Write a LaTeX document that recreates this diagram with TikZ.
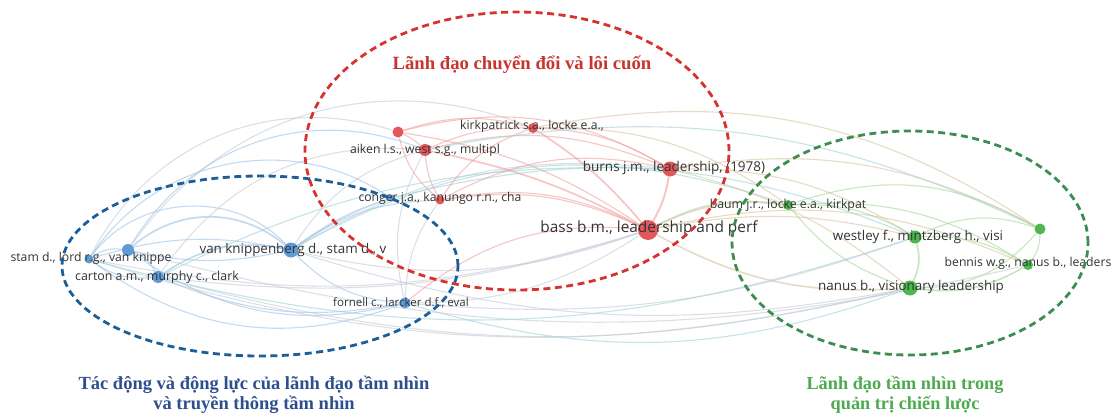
\documentclass[tikz,border=0pt]{standalone}
\usepackage{fontspec}
\setmainfont{Liberation Serif}
\newfontfamily\lblfont{Open Sans}
\pgfdeclarelayer{back}
\pgfdeclarelayer{bg}
\pgfsetlayers{back,bg,main}
\definecolor{ellred}{HTML}{D7322E}
\definecolor{ellblue}{HTML}{1B5E98}
\definecolor{ellgreen}{HTML}{3D8C50}
\definecolor{ttlred}{HTML}{C9352E}
\definecolor{ttlblue}{HTML}{2E4F8E}
\definecolor{ttlgreen}{HTML}{4DAA4F}
\definecolor{nblue}{HTML}{5E9BD6}
\definecolor{nred}{HTML}{E2575A}
\definecolor{ngreen}{HTML}{4DB84E}
\definecolor{eblue}{HTML}{9CC2E6}
\definecolor{ered}{HTML}{F0A0A0}
\definecolor{egreen}{HTML}{A2D898}
\definecolor{egray}{HTML}{C4CCD8}
\definecolor{eteal}{HTML}{9FD3D6}
\definecolor{eolive}{HTML}{D8C4A0}
\definecolor{txt}{HTML}{333333}
\tikzset{
  nd/.style={circle, inner sep=0pt, draw=none},
  bn/.style={nd, fill=nblue},
  rn/.style={nd, fill=nred},
  gn/.style={nd, fill=ngreen},
  lbl/.style={inner sep=0pt, text=txt, font=\lblfont\fontsize{#1}{#1}\selectfont},
  lbl/.default=12,
  edge/.style={line width=1.1pt, opacity=0.6},
  eb/.style={edge, draw=eblue},
  er/.style={edge, draw=ered},
  eg/.style={edge, draw=egreen},
  ex/.style={edge, draw=egray},
  et/.style={edge, draw=eteal},
  eo/.style={edge, draw=eolive},
  ell/.style={line width=2.8pt, dash pattern=on 7pt off 4.5pt},
  ttl/.style={font=\bfseries\fontsize{#1}{20}\selectfont, align=center},
}
\begin{document}
\begin{tikzpicture}[x=1pt,y=-1pt]
\useasboundingbox (0,0) rectangle (1118,417);
\begin{pgfonlayer}{back}
\fill[white] (0,0) rectangle (1118,417);
\end{pgfonlayer}

% nodes
\node[bn, minimum size=9pt]  (stam)  at (89,259) {};
\node[bn, minimum size=12pt] (bl2)   at (128,250) {};
\node[bn, minimum size=12pt] (cart)  at (158,277) {};
\node[bn, minimum size=15pt] (vk)    at (291,250) {};
\node[bn, minimum size=11pt] (forn)  at (405,303) {};
\node[bn, minimum size=7pt]  (bl3)   at (391,198) {};
\node[rn, minimum size=9pt]  (cong)  at (440,200) {};
\node[rn, minimum size=12pt] (aik)   at (425,150) {};
\node[rn, minimum size=11pt] (r398)  at (398,132) {};
\node[rn, minimum size=10pt] (kirk)  at (533,128) {};
\node[rn, minimum size=15pt] (burns) at (670,169) {};
\node[rn, minimum size=20pt] (bass)  at (648,230) {};
\node[gn, minimum size=10pt] (baum)  at (788,205) {};
\node[gn, minimum size=13pt] (west)  at (915,237) {};
\node[gn, minimum size=11pt] (g1040) at (1040,229) {};
\node[gn, minimum size=10pt] (benn)  at (1028,265) {};
\node[gn, minimum size=15pt] (nanus) at (910,288) {};

% edges
\begin{pgfonlayer}{bg}
% blue cluster
\draw[eb] (stam) to[bend left=20] (bl2);
\draw[eb] (stam) to[bend right=20] (cart);
\draw[eb] (bl2) to[bend left=20] (cart);
\draw[eb, line width=1.7pt] (bl2) to[bend left=40] (vk);
\draw[eb, line width=1.7pt] (cart) to[bend left=22] (vk);
\draw[eb] (stam) to[bend left=14] (vk);
\draw[eb] (bl2) to[bend right=12] (vk);
\draw[eb] (cart) to[bend right=16] (forn);
\draw[eb] (vk) to[bend right=20] (forn);
\draw[eb, line width=1.8pt] (vk) to[bend left=8] (bl3);
\draw[eb] (vk) to[bend left=16] (cong);
\draw[eb] (stam) to[bend left=45] (bl3);
\draw[eb] (bl2) to[bend left=40] (aik);
\draw[eb] (stam) to[bend right=28] (forn);
\draw[eb] (bl2) to[bend right=24] (forn);
\draw[eb] (stam) to[bend left=50] (vk);
% long cross arcs
\draw[ex] (stam) to[bend right=14] (bass);
\draw[ex] (cart) to[bend right=12] (bass);
\draw[ex] (cart) to[bend right=14] (nanus);
\draw[ex] (stam) to[bend right=15] (nanus);
\draw[ex] (bl2) to[bend right=14] (benn);
\draw[et] (stam) to[bend right=17] (west);
\draw[ex] (vk) to[bend right=16] (bass);
\draw[ex] (vk) to[bend left=18] (burns);
\draw[ex] (forn) to[bend right=16] (bass);
\draw[et] (forn) to[bend right=18] (nanus);
\draw[ex] (forn) to[bend right=12] (west);
\draw[ex] (vk) to[bend right=14] (nanus);
\draw[ex] (stam) to[bend left=40] (r398);
\draw[ex] (bl2) to[bend left=38] (kirk);
\draw[ex] (cart) to[bend left=30] (aik);
\draw[ex] (vk) to[bend left=20] (aik);
\draw[ex] (forn) to[bend left=20] (aik);
\draw[ex] (forn) to[bend left=16] (cong);
\draw[et] (bl3) to[bend left=18] (west);
\draw[et] (vk) to[bend left=24] (baum);
\draw[et] (cart) to[bend left=14] (burns);
% red cluster
\draw[er] (r398) to[bend left=10] (aik);
\draw[er] (r398) to[bend left=16] (kirk);
\draw[er] (aik) to[bend left=12] (kirk);
\draw[er] (aik) to[bend right=12] (cong);
\draw[er, line width=1.7pt] (aik) to[bend left=8] (bass);
\draw[er] (aik) to[bend left=18] (burns);
\draw[er, line width=1.7pt] (kirk) to[bend left=8] (bass);
\draw[er] (kirk) to[bend left=14] (burns);
\draw[er, line width=1.9pt] (burns) to[bend left=10] (bass);
\draw[er] (cong) to[bend left=16] (bass);
\draw[er] (cong) to[bend left=18] (kirk);
\draw[er] (cong) to[bend left=20] (burns);
\draw[er] (r398) to[bend left=12] (bass);
\draw[er] (r398) to[bend left=22] (burns);
\draw[er] (r398) to[bend right=18] (cong);
\draw[et] (aik) to[bend left=18] (g1040);
\draw[eo] (kirk) to[bend left=18] (baum);
\draw[eo] (kirk) to[bend left=22] (g1040);
\draw[eo, line width=1.6pt] (bass) to[bend left=16] (baum);
\draw[eo] (bass) to[bend left=12] (west);
\draw[eo, line width=1.6pt] (bass) to[bend right=16] (nanus);
\draw[eo] (bass) to[bend left=18] (benn);
\draw[eo] (burns) to[bend left=16] (west);
\draw[eo] (burns) to[bend left=18] (g1040);
\draw[eo] (burns) to[bend left=12] (nanus);
\draw[er] (bass) to[bend right=22] (forn);
\draw[er] (bass) to[bend right=18] (cong);
% green cluster
\draw[eg] (baum) to[bend left=16] (west);
\draw[eg] (baum) to[bend right=16] (nanus);
\draw[eg] (baum) to[bend left=24] (g1040);
\draw[eg] (baum) to[bend left=18] (benn);
\draw[eg, line width=1.7pt] (west) to[bend left=20] (nanus);
\draw[eg] (west) to[bend left=22] (g1040);
\draw[eg] (west) to[bend left=16] (benn);
\draw[eg, line width=1.7pt] (nanus) to[bend right=18] (benn);
\draw[eg] (nanus) to[bend right=24] (g1040);
\draw[eg] (g1040) to[bend left=18] (benn);
\draw[eg] (baum) to[bend right=18] (bass);
\end{pgfonlayer}

% labels
\node[lbl=12.2] (stamL)  at (91,258)  {stam d., lord r.g., van knippe};
\node[lbl=12.4] (cartL)  at (157,277) {carton a.m., murphy c., clark};
\node[lbl=13.4] (vkL)    at (293,250) {van knippenberg d., stam d., v};
\node[lbl=11.5] (fornL)  at (401,303) {fornell c., larcker d.f., eval};
\node[lbl=12.2] (congL)  at (440,198) {conger j.a., kanungo r.n., cha};
\node[lbl=12.2] (aikL)   at (425,150) {aiken l.s., west s.g., multipl};
\node[lbl=12.2] (kirkL)  at (532,126) {kirkpatrick s.a., locke e.a.,};
\node[lbl=13.5] (burnsL) at (674,168) {burns j.m., leadership, (1978)};
\node[lbl=15.4] (bassL)  at (649,228) {bass b.m., leadership and perf};
\node[lbl=12.3] (baumL)  at (788,205) {baum j.r., locke e.a., kirkpat};
\node[lbl=13.4] (westL)  at (918,237) {westley f., mintzberg h., visi};
\node[lbl=12.2] (bennL)  at (1028,263) {bennis w.g., nanus b., leaders};
\node[lbl=13.4] (nanusL) at (911,287) {nanus b., visionary leadership};

% cluster ellipses
\draw[ell, ellred]   (517,151) ellipse [x radius=212pt, y radius=139pt];
\draw[ell, ellblue]  (260,266) ellipse [x radius=198pt, y radius=90pt];
\draw[ell, ellgreen] (910,243) ellipse [x radius=178pt, y radius=112pt];

% titles
\node[ttl=18.7, text=ttlred] (tRed) at (522,65) {Lãnh đạo chuyển đổi và lôi cuốn};
\node[ttl=18.5, text=ttlblue] (tBlue) at (254,395) {Tác động và động lực của lãnh đạo tầm nhìn\\và truyền thông tầm nhìn};
\node[ttl=18.3, text=ttlgreen] (tGreen) at (905,395) {Lãnh đạo tầm nhìn trong\\quản trị chiến lược};
\end{tikzpicture}
\end{document}
